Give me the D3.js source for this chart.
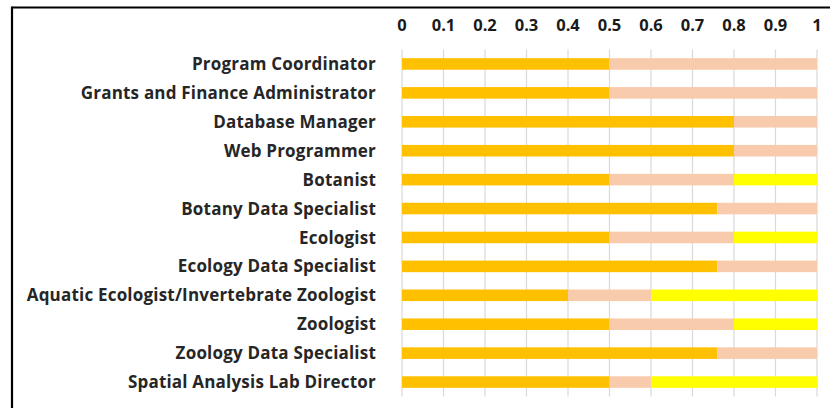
<!DOCTYPE html>
<html><head><meta charset="utf-8">
<script src="https://d3js.org/d3.v7.min.js"></script>
<style>body{margin:0;background:#fff;} svg{display:block;}</style>
</head><body>
<svg id="c" width="830" height="408"></svg>
<script>
const categories = ["Program Coordinator","Grants and Finance Administrator","Database Manager","Web Programmer","Botanist","Botany Data Specialist","Ecologist","Ecology Data Specialist","Aquatic Ecologist/Invertebrate Zoologist","Zoologist","Zoology Data Specialist","Spatial Analysis Lab Director"];
const series1 = [0.5,0.5,0.8,0.8,0.5,0.76,0.5,0.76,0.4,0.5,0.76,0.5];
const series2 = [0.5,0.5,0.2,0.2,0.3,0.24,0.3,0.24,0.2,0.3,0.24,0.1];
const series3 = [0,0,0,0,0.2,0,0.2,0,0.4,0.2,0,0.4];
const tickValues = [0,0.1,0.2,0.3,0.4,0.5,0.6,0.7,0.8,0.9,1];
const colors = ["#FFC000","#F8CBAD","#FFFF00"];

const svg = d3.select("#c");
const x = d3.scaleLinear().domain([0,1]).range([402,817]);
const y = d3.scaleBand().domain(categories).range([49.5,396.5]).paddingInner(0.6).paddingOuter(0.3);

// frame
svg.append("line").attr("x1",12).attr("x2",830).attr("y1",7.5).attr("y2",7.5).attr("stroke","#000").attr("stroke-width",2.2);
svg.append("line").attr("x1",12).attr("x2",12).attr("y1",6.5).attr("y2",408).attr("stroke","#000").attr("stroke-width",2.2);

// gridlines
svg.append("g").selectAll("line").data(tickValues).join("line")
  .attr("x1",d=>x(d)).attr("x2",d=>x(d)).attr("y1",49.5).attr("y2",396.5)
  .attr("stroke","#D9D9D9").attr("stroke-width",1.2);

// tick labels
svg.append("g").selectAll("text").data(tickValues).join("text")
  .attr("x",d=>x(d)).attr("y",30.5).attr("text-anchor","middle")
  .attr("font-family","Open Sans").attr("font-weight","bold").attr("font-size",16.5)
  .attr("fill","#1a1a1a").text(d=>String(d));

// stacked
const rows = categories.map((c,i)=>({cat:c,s0:series1[i],s1:series2[i],s2:series3[i]}));
const stack = d3.stack().keys(["s0","s1","s2"])(rows);
svg.append("g").selectAll("g").data(stack).join("g").attr("fill",(d,i)=>colors[i])
  .selectAll("rect").data(d=>d).join("rect")
  .attr("x",d=>x(d[0])).attr("width",d=>Math.max(0,x(d[1])-x(d[0])))
  .attr("y",d=>y(d.data.cat)).attr("height",y.bandwidth());

// category labels
svg.append("g").selectAll("text").data(categories).join("text")
  .attr("x",376).attr("y",d=>y(d)+y.bandwidth()/2).attr("dy","0.36em")
  .attr("text-anchor","end")
  .attr("font-family","Open Sans").attr("font-weight","bold").attr("font-size",17)
  .attr("letter-spacing",0.2)
  .attr("fill","#262626").text(d=>d);
</script>
</body></html>
